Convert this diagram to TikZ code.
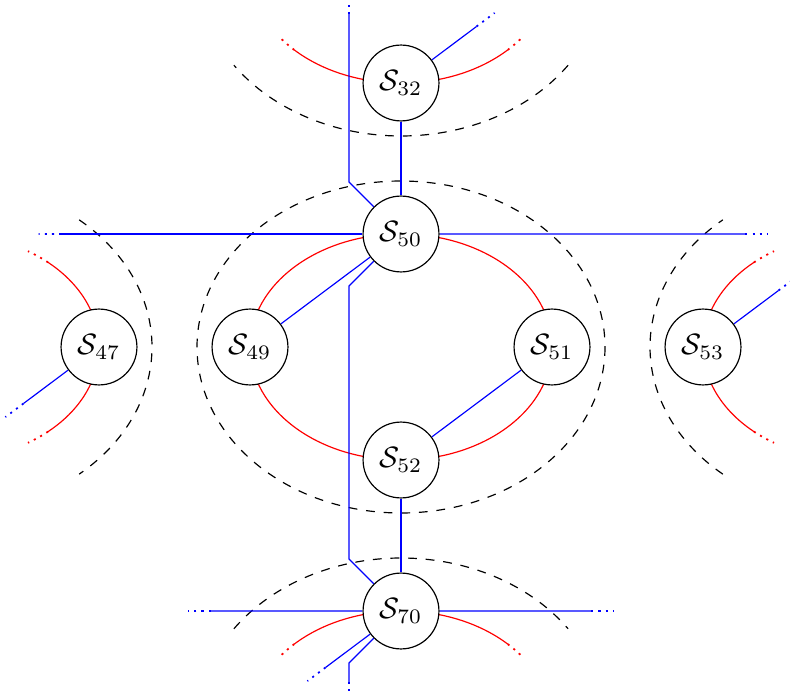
\documentclass[tikz,border=0pt]{standalone}
\usetikzlibrary{calc,backgrounds}
\begin{document}
\begin{tikzpicture}[x=0.34pt,y=-0.34pt,
  sn/.style={circle,draw,fill=white,minimum size=25.8pt,inner sep=0pt},
  bl/.style={blue},
  rd/.style={red},
  dl/.style={dashed},
  dts/.style={line width=0.6pt,dash pattern=on 0.7pt off 1.75pt}]
\useasboundingbox (0,0) rectangle (790,696);
% cell centres and off-picture nodes
\coordinate (cM) at (401,347);
\coordinate (cT) at (401,-30);
\coordinate (cB) at (401,724);
\coordinate (cL) at (-52,347);
\coordinate (cR) at (854,347);
\coordinate (LT) at (-52,234);
\coordinate (LB) at (-52,460);
\coordinate (RT) at (854,234);
\coordinate (TR) at (552,-30);
\coordinate (BL) at (250,724);
\coordinate (BLT) at (-52,611);
\coordinate (BRT) at (854,611);
% nodes
\node[sn] (S32) at (401,83) {$\mathcal{S}_{32}$};
\node[sn] (S50) at (401,234) {$\mathcal{S}_{50}$};
\node[sn] (S49) at (250,347) {$\mathcal{S}_{49}$};
\node[sn] (S51) at (552,347) {$\mathcal{S}_{51}$};
\node[sn] (S52) at (401,460) {$\mathcal{S}_{52}$};
\node[sn] (S47) at (99,347) {$\mathcal{S}_{47}$};
\node[sn] (S53) at (703,347) {$\mathcal{S}_{53}$};
\node[sn] (S70) at (401,611) {$\mathcal{S}_{70}$};
\begin{scope}[on background layer]
% dashed ellipses
\draw[dl] (cM) ellipse[x radius=204, y radius=166];
\draw[dl] ($(cT)+(35:204 and 166)$) arc[start angle=35, end angle=145, x radius=204, y radius=166];
\draw[dl] ($(cB)+(215:204 and 166)$) arc[start angle=215, end angle=325, x radius=204, y radius=166];
\draw[dl] ($(cL)+(-50:204 and 166)$) arc[start angle=-50, end angle=50, x radius=204, y radius=166];
\draw[dl] ($(cR)+(130:204 and 166)$) arc[start angle=130, end angle=230, x radius=204, y radius=166];
% red rings
\draw[rd] (cM) ellipse[x radius=151, y radius=113];
\draw[rd] ($(cT)+(45:151 and 113)$) arc[start angle=45, end angle=135, x radius=151, y radius=113];
\draw[rd,dts] ($(cT)+(135:151 and 113)$) arc[start angle=135, end angle=144.5, x radius=151, y radius=113];
\draw[rd,dts] ($(cT)+(45:151 and 113)$) arc[start angle=45, end angle=35.5, x radius=151, y radius=113];
\draw[rd] ($(cB)+(225:151 and 113)$) arc[start angle=225, end angle=315, x radius=151, y radius=113];
\draw[rd,dts] ($(cB)+(225:151 and 113)$) arc[start angle=225, end angle=215.5, x radius=151, y radius=113];
\draw[rd,dts] ($(cB)+(315:151 and 113)$) arc[start angle=315, end angle=324.5, x radius=151, y radius=113];
\draw[rd] ($(cL)+(-48.5:151 and 113)$) arc[start angle=-48.5, end angle=48.5, x radius=151, y radius=113];
\draw[rd,dts] ($(cL)+(-48.5:151 and 113)$) arc[start angle=-48.5, end angle=-58, x radius=151, y radius=113];
\draw[rd,dts] ($(cL)+(48.5:151 and 113)$) arc[start angle=48.5, end angle=58, x radius=151, y radius=113];
\draw[rd] ($(cR)+(131.5:151 and 113)$) arc[start angle=131.5, end angle=228.5, x radius=151, y radius=113];
\draw[rd,dts] ($(cR)+(131.5:151 and 113)$) arc[start angle=131.5, end angle=122, x radius=151, y radius=113];
\draw[rd,dts] ($(cR)+(228.5:151 and 113)$) arc[start angle=228.5, end angle=238, x radius=151, y radius=113];
% blue links
\draw[bl] (S49) -- (S50);
\draw[bl] (S51) -- (S52);
\draw[bl] (S32) -- (S50);
\draw[bl] (S52) -- (S70);
\draw[bl] (S50) -- ($(S50)+(-52,52)$) -- ($(S70)+(-52,-52)$) -- (S70);
\draw[bl] (S50) -- ($(S50)+(-52,-52)$) -- ($(S50)+(-52,-220)$);
\draw[bl,dts] ($(S50)+(-52,-220)$) -- ($(S50)+(-52,-242)$);
\draw[bl] (S70) -- ($(S70)+(-52,52)$) -- ($(S70)+(-52,71)$);
\draw[bl,dts] ($(S70)+(-52,71)$) -- ($(S70)+(-52,93)$);
\draw[bl] (S50) -- ($(S50)!0.75!(LT)$);
\draw[bl,dts] ($(S50)!0.75!(LT)$) -- ($(S50)!0.8!(LT)$);
\draw[bl] (S50) -- ($(S50)!0.76!(RT)$);
\draw[bl,dts] ($(S50)!0.76!(RT)$) -- ($(S50)!0.81!(RT)$);
\draw[bl] (S70) -- ($(S70)!0.42!(BLT)$);
\draw[bl,dts] ($(S70)!0.42!(BLT)$) -- ($(S70)!0.47!(BLT)$);
\draw[bl] (S70) -- ($(S70)!0.42!(BRT)$);
\draw[bl,dts] ($(S70)!0.42!(BRT)$) -- ($(S70)!0.47!(BRT)$);
\draw[bl] (S70) -- ($(S70)!0.5!(BL)$);
\draw[bl,dts] ($(S70)!0.5!(BL)$) -- ($(S70)!0.62!(BL)$);
\draw[bl] (S32) -- ($(S32)!0.5!(TR)$);
\draw[bl,dts] ($(S32)!0.5!(TR)$) -- ($(S32)!0.62!(TR)$);
\draw[bl] (S47) -- ($(S47)!0.5!(LB)$);
\draw[bl,dts] ($(S47)!0.5!(LB)$) -- ($(S47)!0.62!(LB)$);
\draw[bl] (S53) -- ($(S53)!0.5!(RT)$);
\draw[bl,dts] ($(S53)!0.5!(RT)$) -- ($(S53)!0.62!(RT)$);
\end{scope}
\end{tikzpicture}
\end{document}
